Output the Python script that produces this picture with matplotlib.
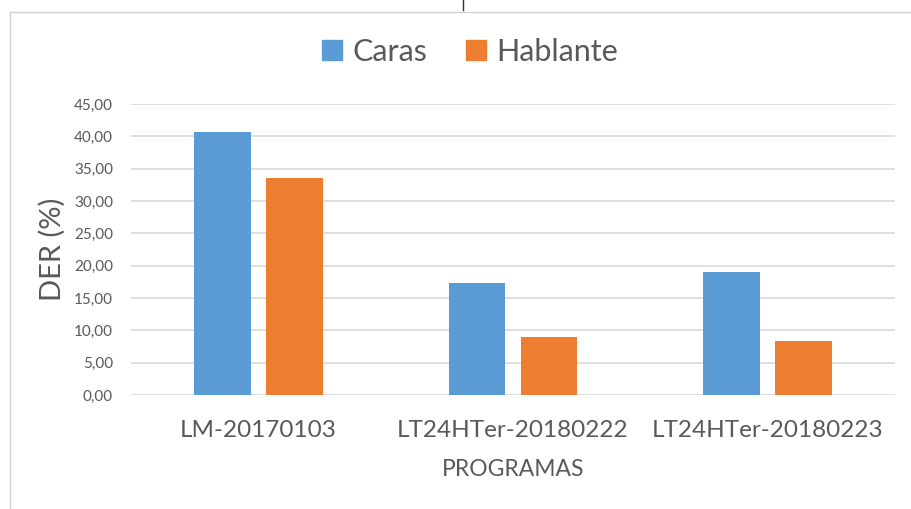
import numpy as np
import matplotlib.pyplot as plt
from matplotlib.lines import Line2D

# DER por programa
programas = ["LM-20170103", "LT24HTer-20180222", "LT24HTer-20180223"]
caras = [40.7, 17.3, 19.0]
hablante = [33.6, 9.0, 8.3]
yticks = np.arange(0, 50, 5)

azul = "#5B9BD5"
naranja = "#ED7D31"
gris = "#595959"

plt.rcParams['font.family'] = ['Lato', 'DejaVu Sans']

fig = plt.figure(figsize=(9.11, 5.09), dpi=100)
ax = fig.add_axes([0.1438, 0.2240, 0.8386, 0.5717])

x = np.arange(len(programas))
w = 0.223
ax.bar(x - 0.1416, caras, w, color=azul, label="Caras", zorder=3)
ax.bar(x + 0.1416, hablante, w, color=naranja, label="Hablante", zorder=3)

ax.set_xlim(-0.5, 2.5)
ax.set_ylim(0, 45)
ax.set_yticks(yticks)
ax.set_yticklabels([("%.2f" % v).replace(".", ",") for v in yticks], fontsize=11, color=gris)
ax.set_xticks(x)
ax.set_xticklabels(programas, fontsize=17.5, color=gris)
ax.tick_params(axis="y", length=0, pad=13)
ax.tick_params(axis="x", length=0, pad=18)
ax.yaxis.grid(True, color="#D9D9D9", linewidth=1.2, zorder=0)
for s in ax.spines.values():
    s.set_visible(False)

ax.set_ylabel("DER (%)", fontsize=21, color=gris, labelpad=6)
ax.set_xlabel("PROGRAMAS", fontsize=16.5, color=gris, labelpad=13)

handles = [Line2D([], [], marker="s", linestyle="none", markersize=15,
                  markerfacecolor=c, markeredgecolor=c) for c in (azul, naranja)]
fig.legend(handles, ["Caras", "Hablante"], loc="center", bbox_to_anchor=(0.513, 0.898),
           ncol=2, frameon=False, fontsize=22, labelcolor=gris,
           handletextpad=0.15, columnspacing=1.1, handlelength=1.0)

# marco del gráfico
fig.add_artist(Line2D([0.011, 0.011], [0, 0.976], color="#D0D0D0", linewidth=1))
fig.add_artist(Line2D([0.011, 1.0], [0.976, 0.976], color="#D0D0D0", linewidth=1))
fig.add_artist(Line2D([0.508, 0.508], [0.98, 1.0], color="#333333", linewidth=1))

fig.savefig("out.png", dpi=100)
